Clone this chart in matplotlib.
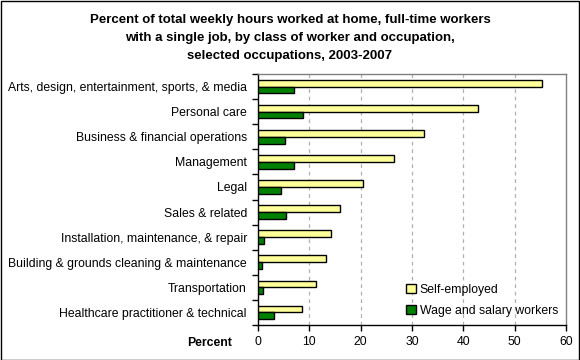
import numpy as np
import matplotlib
matplotlib.use("Agg")
import matplotlib.pyplot as plt
from matplotlib.patches import Rectangle

plt.rcParams['font.family'] = ['Liberation Sans', 'DejaVu Sans']

occupations = ["Arts, design, entertainment, sports, & media", "Personal care",
               "Business & financial operations", "Management", "Legal",
               "Sales & related", "Installation, maintenance, & repair",
               "Building & grounds cleaning & maintenance", "Transportation",
               "Healthcare practitioner & technical"]
self_employed = [55.3, 42.8, 32.4, 26.5, 20.5, 16.0, 14.3, 13.3, 11.3, 8.5]
wage_salary = [7.0, 8.8, 5.3, 7.0, 4.5, 5.5, 1.2, 0.8, 1.0, 3.1]
xticks = [0, 10, 20, 30, 40, 50, 60]

W, H = 580, 360
fig = plt.figure(figsize=(W / 100, H / 100), dpi=100)
fig.patch.set_facecolor("white")
fig.patches.append(Rectangle((0.5 / W, 0.5 / H), 1 - 1.5 / W, 1 - 1.5 / H,
                             transform=fig.transFigure, fill=False,
                             edgecolor="black", linewidth=1))

ax = fig.add_axes([258 / W, 1 - 325 / H, (566 - 258) / W, (325 - 74) / H])

n = len(occupations)
y = np.arange(n)
bh = 0.27
ax.barh(y - bh / 2, self_employed, height=bh, color="#ffff99",
        edgecolor="black", linewidth=1, label="Self-employed", zorder=3)
ax.barh(y + bh / 2, wage_salary, height=bh, color="#008000",
        edgecolor="black", linewidth=1, label="Wage and salary workers", zorder=3)

ax.set_ylim(n - 0.5, -0.5)
ax.set_xlim(0, 60)
ax.set_xticks(xticks)
ax.set_xticklabels([str(t) for t in xticks], fontsize=8.8)
ax.set_yticks(y)
ax.set_yticklabels(occupations, fontsize=8.85)
ax.tick_params(axis="y", length=0, pad=8)
ax.set_yticks(np.arange(-0.5, n, 1), minor=True)
ax.tick_params(axis="y", which="minor", length=4, width=1, direction="out")
ax.tick_params(axis="x", length=4, width=1, direction="out", pad=4)

for v in xticks[1:-1]:
    ax.axvline(v, color="#b0b0b0", linestyle=(0, (3, 3)), linewidth=0.9, zorder=1)

ax.spines["left"].set_color("black")
ax.spines["bottom"].set_color("black")
ax.spines["top"].set_color("#808080")
ax.spines["right"].set_color("#808080")
for s in ax.spines.values():
    s.set_linewidth(1)

fig.text(210 / W, 1 - 343 / H, "Percent", fontsize=8.8, fontweight="bold",
         ha="center", va="center")

fig.text(0.5, 1 - 38 / H,
         "Percent of total weekly hours worked at home, full-time workers\n"
         "with a single job, by class of worker and occupation,\n"
         "selected occupations, 2003-2007",
         fontsize=9.5, fontweight="bold", ha="center", va="center",
         linespacing=1.72)

leg = ax.legend(loc="lower right", bbox_to_anchor=(1.0, 0.0), frameon=False,
                fontsize=8.8, handlelength=0.8, handleheight=0.8,
                handletextpad=0.3, labelspacing=0.75, borderaxespad=0.25)

fig.savefig("out.png", dpi=100)
